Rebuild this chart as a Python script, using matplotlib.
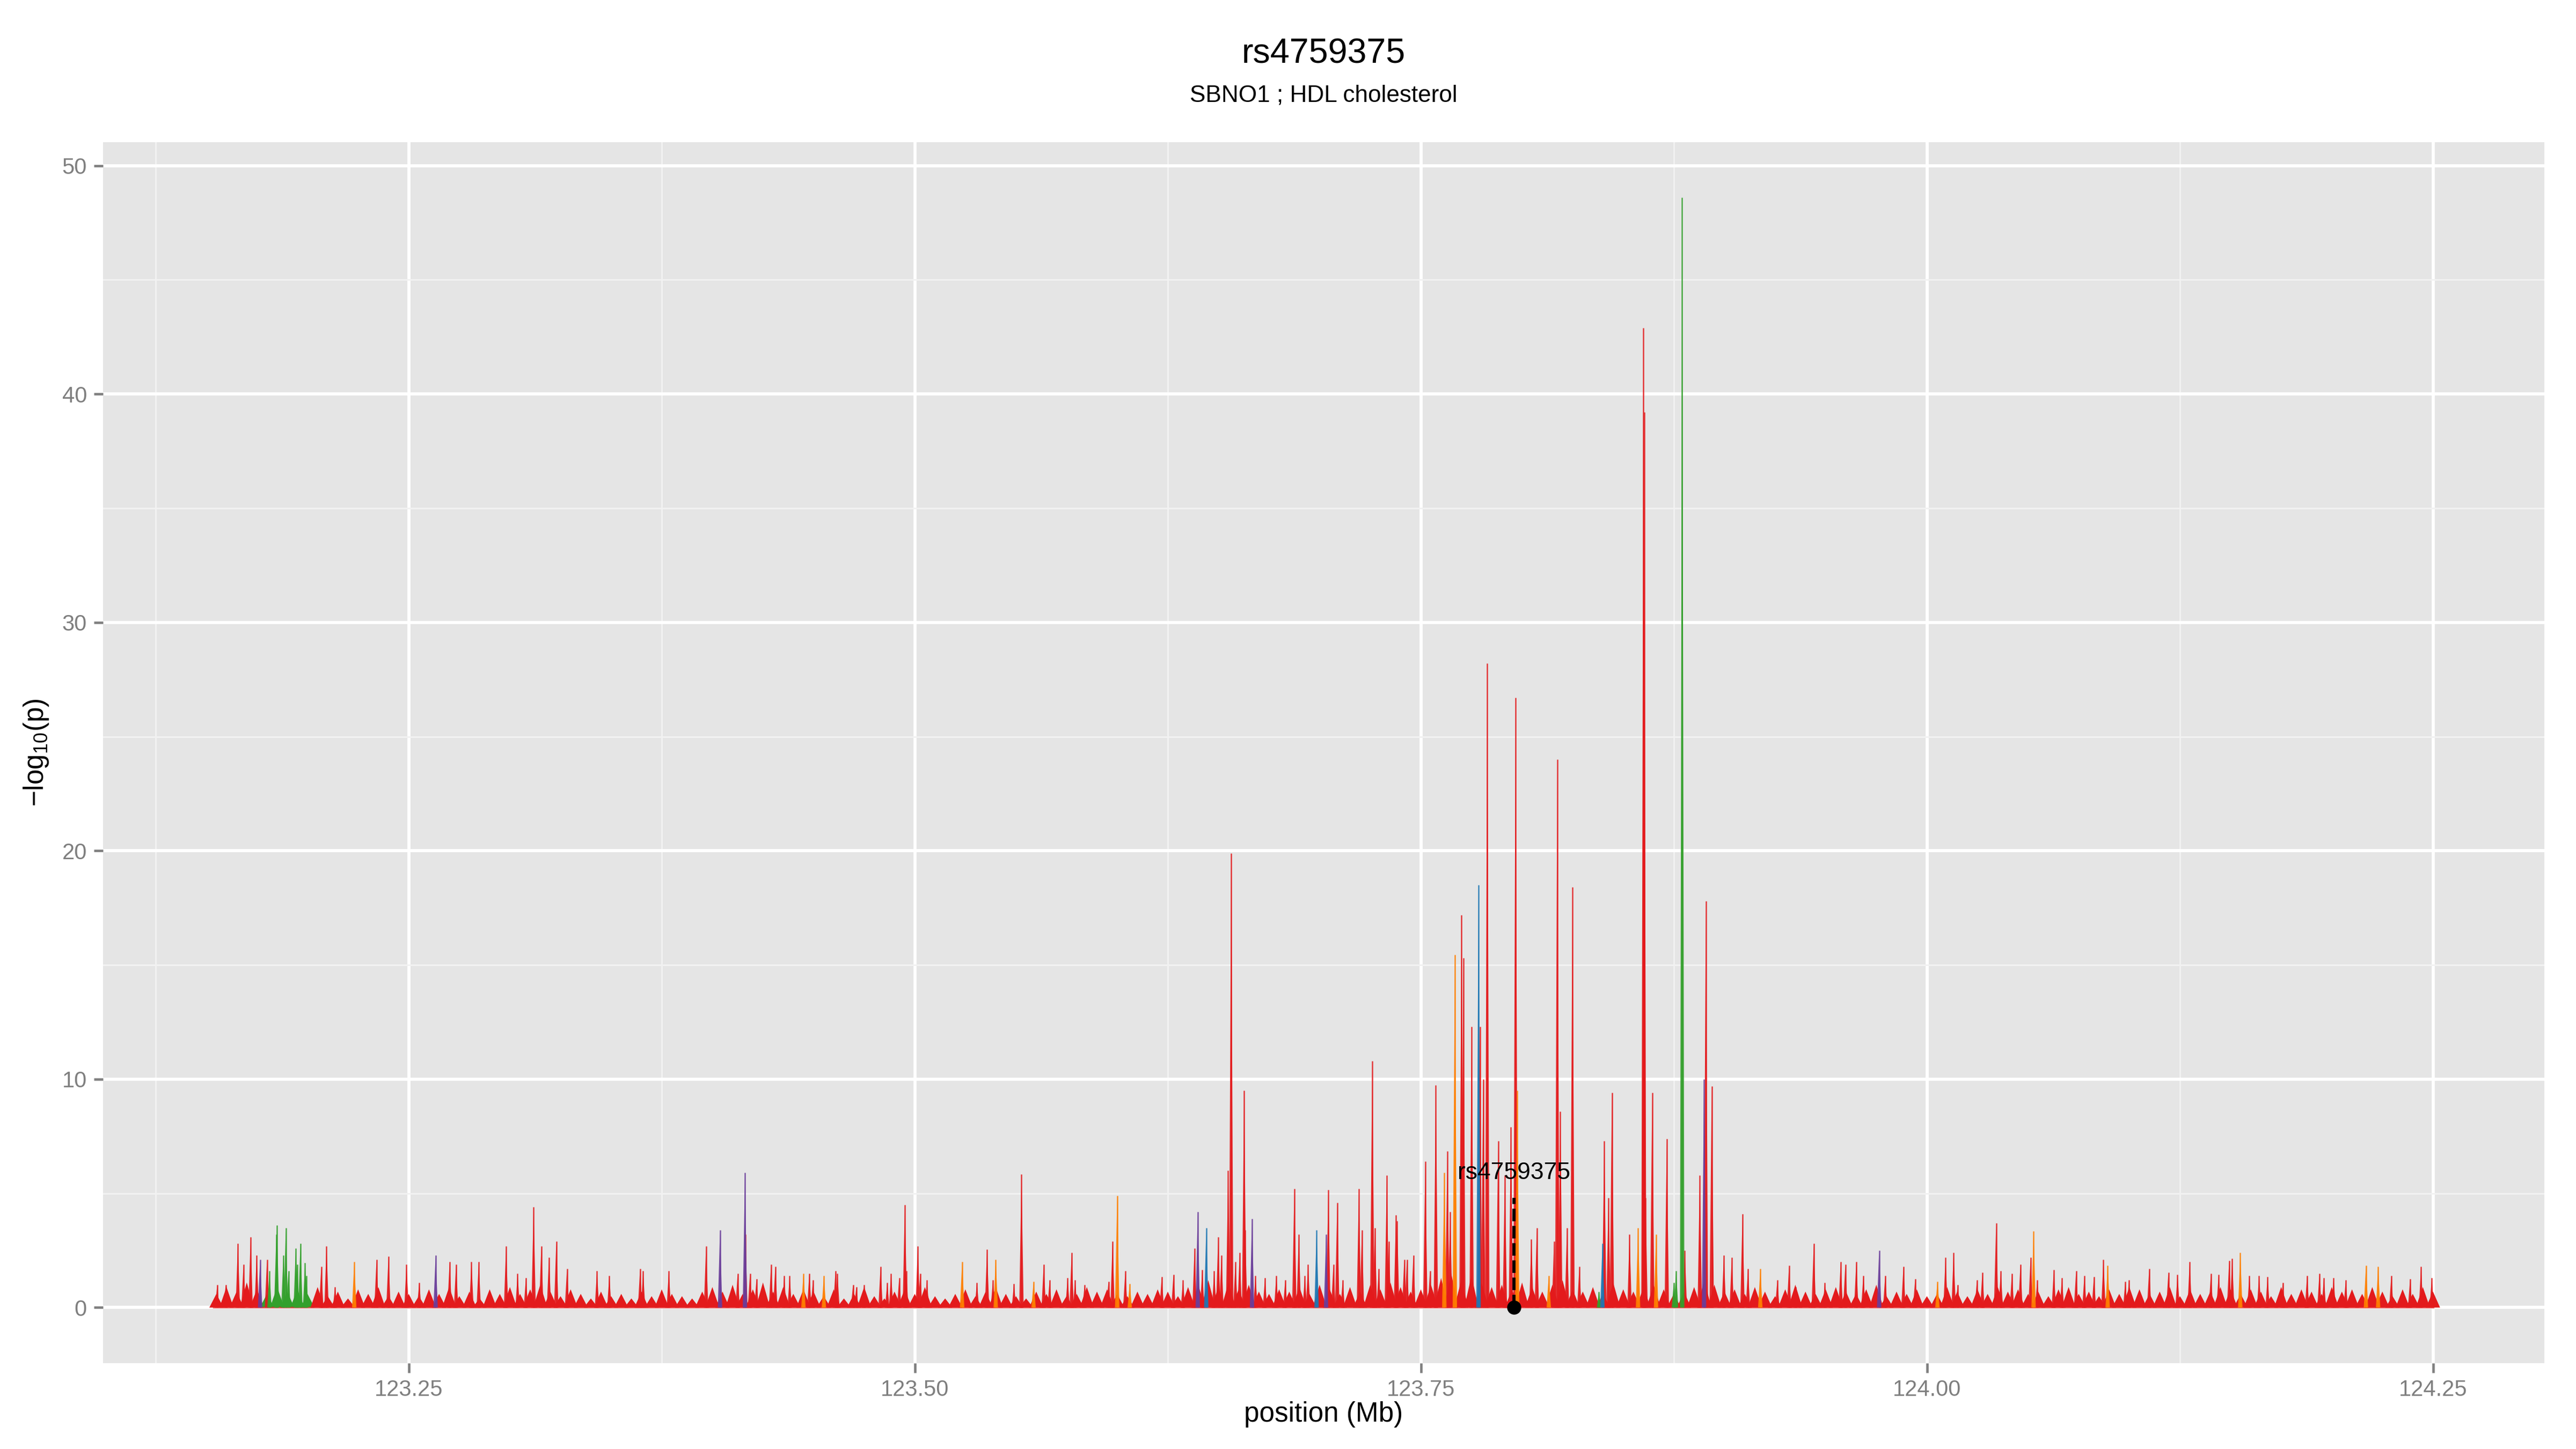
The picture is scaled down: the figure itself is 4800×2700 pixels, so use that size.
import numpy as np
import matplotlib
matplotlib.use("Agg")
import matplotlib.pyplot as plt
from matplotlib.collections import PolyCollection
from matplotlib.ticker import MultipleLocator, FormatStrFormatter

plt.rcParams['font.family'] = ['Liberation Sans', 'DejaVu Sans']
plt.rcParams['mathtext.fontset'] = 'custom'
plt.rcParams['mathtext.rm'] = 'Liberation Sans'

#Labels
snp_name = "rs4759375"
subtitle = "SBNO1 ; HDL cholesterol"

#Marked SNP: position (Mb) and height of the dashed stick
snp_pos = 123.796
snp_stick = 4.8

#Background floor of the track, one value every 5 kb from 123.155 to 124.250 Mb
floor_start, floor_end = 123.155, 124.250
floor_vals = [0.6, 0.9, 0.7, 1.1, 0.8, 0.6, 0.9, 0.7, 0.8, 0.6,
              0.9, 0.5, 0.7, 0.4, 0.8, 0.6, 0.9, 0.5, 0.7, 0.6,
              0.5, 0.8, 0.6, 0.9, 0.5, 0.7, 0.4, 0.8, 0.6, 0.9,
              0.6, 0.8, 1.0, 0.7, 0.5, 0.8, 0.6, 0.4, 0.7, 0.5,
              0.6, 0.4, 0.7, 0.5, 0.8, 0.6, 0.5, 0.4, 0.7, 0.9,
              0.7, 1.0, 0.6, 0.8, 1.1, 0.7, 0.9, 0.6, 0.8, 0.7,
              0.5, 0.8, 0.4, 0.6, 0.9, 0.5, 0.4, 0.7, 0.8, 0.6,
              0.9, 0.5, 0.4, 0.6, 0.8, 0.5, 0.7, 0.9, 0.6, 0.5,
              0.4, 0.7, 0.6, 0.8, 0.5, 0.6, 0.9, 0.7, 0.8, 0.6,
              0.5, 0.7, 0.6, 0.8, 0.7, 0.5, 0.9, 1.0, 1.2, 0.9,
              1.1, 0.8, 1.0, 0.7, 0.6, 0.8, 0.7, 0.9, 0.6, 1.0,
              0.8, 0.6, 0.9, 0.7, 1.0, 0.8, 1.1, 0.9, 0.7, 0.8,
              1.0, 1.3, 1.5, 1.2, 1.4, 1.1, 0.9, 1.0, 0.8, 1.1,
              0.9, 0.7, 1.0, 1.2, 0.8, 0.7, 0.9, 0.6, 1.1, 0.8,
              0.7, 0.9, 1.0, 0.8, 0.6, 0.7, 0.9, 1.2, 1.0, 0.7,
              0.8, 0.6, 0.9, 0.7, 0.5, 0.8, 1.0, 0.7, 0.6, 0.8,
              0.9, 0.7, 0.6, 0.8, 1.0, 0.5, 0.7, 0.6, 0.8, 0.5,
              0.6, 0.9, 0.7, 0.5, 0.8, 0.6, 0.9, 0.7, 0.8, 0.6,
              0.7, 0.5, 0.8, 0.9, 0.6, 0.7, 0.5, 0.8, 0.6, 0.9,
              0.8, 0.6, 0.7, 0.9, 0.5, 0.8, 0.6, 0.7, 0.9, 0.8,
              0.6, 0.8, 0.7, 0.5, 0.9, 0.6, 0.8, 0.7, 0.6, 0.9,
              0.7, 0.8, 0.6, 0.9, 0.7, 0.5, 0.8, 0.6, 0.9, 0.7]
#The floor is green inside this block
green_block = (123.180, 123.200)

#Individual spikes: position (Mb), -log10(p) and LD colour code, 8 per row
spike_pos = [123.1554, 123.1596, 123.1656, 123.1684, 123.1719, 123.1749, 123.1766, 123.1800,
             123.1812, 123.1846, 123.1849, 123.1881, 123.1893, 123.1906, 123.1942, 123.1949,
             123.1965, 123.1988, 123.1994, 123.2068, 123.2094, 123.2136, 123.2231, 123.2341,
             123.2400, 123.2489, 123.2552, 123.2633, 123.2702, 123.2734, 123.2810, 123.2846,
             123.2981, 123.3038, 123.3079, 123.3117, 123.3155, 123.3193, 123.3229, 123.3282,
             123.3430, 123.3491, 123.3643, 123.3658, 123.3785, 123.3969, 123.4038, 123.4125,
             123.4161, 123.4163, 123.4186, 123.4218, 123.4290, 123.4311, 123.4355, 123.4382,
             123.4450, 123.4479, 123.4497, 123.4551, 123.4608, 123.4618, 123.4695, 123.4711,
             123.4750, 123.4831, 123.4864, 123.4883, 123.4923, 123.4951, 123.4958, 123.5015,
             123.5027, 123.5060, 123.5234, 123.5307, 123.5357, 123.5386, 123.5400, 123.5490,
             123.5527, 123.5587, 123.5637, 123.5666, 123.5755, 123.5775, 123.5792, 123.5839,
             123.5957, 123.5977, 123.6000, 123.6040, 123.6062, 123.6220, 123.6278, 123.6325,
             123.6382, 123.6398, 123.6420, 123.6440, 123.6479, 123.6499, 123.6515, 123.6548,
             123.6563, 123.6584, 123.6605, 123.6627, 123.6632, 123.6666, 123.6683, 123.6730,
             123.6786, 123.6830, 123.6875, 123.6897, 123.6927, 123.6943, 123.6985, 123.7032,
             123.7043, 123.7068, 123.7087, 123.7114, 123.7194, 123.7209, 123.7260, 123.7273,
             123.7292, 123.7332, 123.7342, 123.7377, 123.7383, 123.7418, 123.7431, 123.7463,
             123.7522, 123.7545, 123.7574, 123.7616, 123.7631, 123.7645, 123.7668, 123.7701,
             123.7710, 123.7751, 123.7785, 123.7792, 123.7808, 123.7828, 123.7882, 123.7915,
             123.7945, 123.7968, 123.7976, 123.8046, 123.8073, 123.8132, 123.8158, 123.8174,
             123.8189, 123.8222, 123.8249, 123.8283, 123.8380, 123.8397, 123.8406, 123.8427,
             123.8444, 123.8531, 123.8573, 123.8600, 123.8603, 123.8610, 123.8643, 123.8662,
             123.8715, 123.8750, 123.8761, 123.8791, 123.8804, 123.8878, 123.8899, 123.8908,
             123.8937, 123.8997, 123.9036, 123.9089, 123.9116, 123.9177, 123.9261, 123.9319,
             123.9351, 123.9441, 123.9496, 123.9574, 123.9597, 123.9651, 123.9686, 123.9764,
             123.9794, 123.9884, 123.9942, 124.0052, 124.0092, 124.0132, 124.0152, 124.0247,
             124.0274, 124.0342, 124.0365, 124.0420, 124.0462, 124.0512, 124.0527, 124.0545,
             124.0627, 124.0667, 124.0737, 124.0778, 124.0825, 124.0872, 124.0893, 124.0980,
             124.0998, 124.1098, 124.1193, 124.1238, 124.1298, 124.1403, 124.1441, 124.1493,
             124.1508, 124.1548, 124.1593, 124.1641, 124.1683, 124.1758, 124.1878, 124.1939,
             124.1961, 124.2009, 124.2069, 124.2169, 124.2229, 124.2294, 124.2387, 124.2441,
             124.2494]
spike_val = [1.0, 1.0, 2.8, 1.9, 3.1, 2.3, 2.1, 2.1,
             1.6, 3.2, 3.6, 2.3, 3.5, 1.6, 2.6, 1.9,
             2.8, 1.95, 1.4, 1.8, 2.7, 0.9, 2.0, 2.1,
             2.25, 1.9, 1.1, 2.3, 2.0, 1.9, 2.0, 2.0,
             2.7, 1.5, 1.3, 4.4, 2.7, 2.2, 2.9, 1.7,
             1.6, 1.4, 1.7, 1.6, 1.6, 2.7, 3.4, 1.5,
             5.9, 3.2, 1.5, 1.25, 1.9, 1.8, 1.4, 1.4,
             1.5, 1.5, 1.2, 1.4, 1.6, 1.5, 1.0, 0.9,
             1.0, 1.8, 1.1, 1.5, 1.3, 4.5, 1.6, 2.7,
             1.5, 1.2, 2.0, 1.1, 2.55, 1.2, 2.1, 1.05,
             5.85, 1.15, 1.9, 1.2, 1.3, 2.4, 1.2, 1.0,
             1.15, 2.9, 4.9, 1.6, 1.05, 1.35, 1.45, 1.2,
             2.6, 4.2, 1.65, 3.5, 1.6, 3.1, 2.3, 6.0,
             19.9, 2.0, 2.4, 9.5, 3.4, 3.9, 1.4, 1.3,
             1.4, 1.2, 5.2, 3.2, 1.4, 1.9, 3.4, 3.2,
             5.15, 1.9, 4.6, 1.2, 5.2, 3.4, 10.8, 3.5,
             1.7, 5.8, 2.9, 4.05, 3.8, 2.1, 2.1, 2.3,
             6.4, 1.6, 9.75, 5.9, 6.85, 4.2, 15.45, 17.2,
             15.3, 12.3, 18.5, 12.3, 10.0, 28.2, 7.3, 5.8,
             7.9, 26.7, 9.5, 3.0, 3.5, 1.4, 2.9, 24.0,
             8.6, 3.5, 18.4, 1.8, 0.7, 2.8, 7.3, 4.8,
             9.4, 3.2, 3.5, 42.9, 39.2, 4.8, 9.4, 3.2,
             7.4, 1.1, 1.6, 48.6, 2.5, 5.8, 10.0, 17.8,
             9.7, 2.3, 2.2, 4.1, 1.7, 1.7, 1.2, 1.85,
             0.9, 2.8, 1.1, 2.0, 1.9, 2.0, 1.4, 2.5,
             1.4, 1.8, 1.25, 1.15, 2.2, 2.4, 1.0, 1.2,
             1.55, 3.7, 1.6, 1.5, 1.9, 2.2, 3.35, 1.2,
             1.65, 1.3, 1.6, 1.4, 1.35, 2.1, 1.85, 1.15,
             1.2, 1.7, 1.55, 1.45, 2.0, 1.5, 1.45, 2.05,
             2.15, 2.4, 1.4, 1.4, 1.35, 1.1, 1.4, 1.5,
             1.3, 1.3, 1.2, 1.85, 1.8, 1.4, 1.25, 1.8,
             1.3]
spike_col = list("rrrrrrpr"
                 "gggggggg"
                 "gggrrror"
                 "rrrprrrr"
                 "rrrrrrrr"
                 "rrrrrrpr"
                 "prrrrrrr"
                 "orrorrrr"
                 "rrrrrrrr"
                 "rrorrror"
                 "rorrrrrr"
                 "rrororrr"
                 "rprbrrrr"
                 "rrrrrprr"
                 "rrrrrrbp"
                 "rrrrrrrr"
                 "rrrrrrrr"
                 "rrrorror"
                 "rrbrrrrr"
                 "rrorrorr"
                 "rrrrgbrr"
                 "rrorrrro"
                 "rgggrrpr"
                 "rrrrrorr"
                 "rrrrrrrp"
                 "rrrorrrr"
                 "rrrrrror"
                 "rrrrrror"
                 "rrrrrrrr"
                 "rorrrrrr"
                 "rrroorrr"
                 "r")
assert len(spike_pos) == len(spike_val) == len(spike_col)

palette = {'r': '#E31A1C', 'o': '#FF7F00', 'b': '#1F78B4', 'p': '#6A3D9A', 'g': '#33A02C'}

fig = plt.figure(figsize=(16, 9), dpi=300)
ax = fig.add_axes([0.04, 0.0593, 0.9477, 0.8426])

#ggplot grey panel
ax.set_facecolor('#E5E5E5')
for s in ax.spines.values():
    s.set_visible(False)
ax.set_xlim(123.099, 124.305)
ax.set_ylim(-2.43, 51.03)
ax.xaxis.set_major_locator(MultipleLocator(0.25))
ax.xaxis.set_minor_locator(MultipleLocator(0.125))
ax.xaxis.set_major_formatter(FormatStrFormatter('%.2f'))
ax.yaxis.set_major_locator(MultipleLocator(10))
ax.yaxis.set_minor_locator(MultipleLocator(5))
ax.grid(which='major', color='white', lw=1.4)
ax.grid(which='minor', color='#F2F2F2', lw=0.7)
ax.set_axisbelow(True)
ax.tick_params(which='major', length=4.2, width=1.1, color='#7F7F7F',
               labelcolor='#7F7F7F', labelsize=10, pad=3)
ax.tick_params(which='minor', length=0)

#Floor of the track as overlapping triangles
floor_x = np.linspace(floor_start, floor_end, len(floor_vals))
fw = 0.0035
floor_verts = [[(x - fw, 0), (x, h), (x + fw, 0)] for x, h in zip(floor_x, floor_vals)]
floor_cols = [palette['g'] if green_block[0] <= x <= green_block[1] else palette['r'] for x in floor_x]
ax.add_collection(PolyCollection(floor_verts, facecolors=floor_cols, edgecolors='none', zorder=2))

#Spikes, red first and the other LD colours on top
sw = 0.0011
for code, z in [('r', 3), ('g', 4), ('o', 4), ('b', 5), ('p', 5)]:
    xs = [x for x, c in zip(spike_pos, spike_col) if c == code]
    hs = [h for h, c in zip(spike_val, spike_col) if c == code]
    verts = [[(x - sw, 0), (x, h), (x + sw, 0)] for x, h in zip(xs, hs)]
    ax.add_collection(PolyCollection(verts, facecolors=palette[code], edgecolors='none',
                                     alpha=0.9, zorder=z))
    ax.vlines(xs, 0, hs, colors=palette[code], lw=0.6, alpha=0.85, zorder=z)

ax.plot([floor_start - 0.0015, floor_end], [0, 0], color='#E31A1C', lw=0.8, alpha=0.6, zorder=3)

#Marked SNP
ax.plot([snp_pos, snp_pos], [0, snp_stick], color='black', lw=1.4, dashes=(4, 1.5), zorder=6)
ax.plot([snp_pos], [0], 'o', color='black', ms=5.3, zorder=7)
ax.text(snp_pos, 5.63, snp_name, ha='center', va='baseline', fontsize=10.7, color='black', zorder=8)

#Titles and axis labels
fig.text(0.5138, 0.9626, snp_name, ha='center', va='center', fontsize=15.5)
fig.text(0.5138, 0.934, subtitle, ha='center', va='center', fontsize=10.6)
ax.set_xlabel('position (Mb)', fontsize=12.3)
ax.xaxis.set_label_coords(0.5, -0.0422)
ax.xaxis.label.set_va('center')
ax.set_ylabel('\u2212log$_{\\mathregular{10}}$(p)', fontsize=12.3)
ax.yaxis.set_label_coords((0.014 - 0.04) / 0.9477, 0.5)
ax.yaxis.label.set_va('center')

plt.savefig('out.png', dpi=300)
